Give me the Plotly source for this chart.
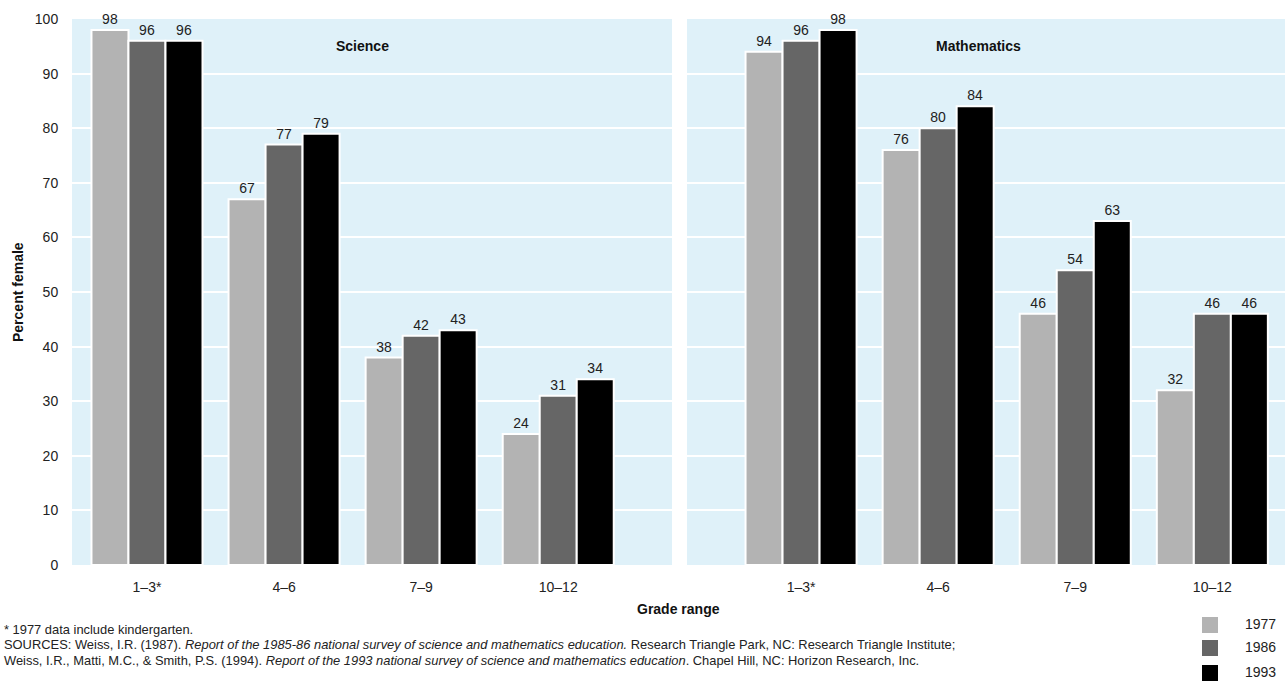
import plotly.graph_objects as go

grades = ["1–3*", "4–6", "7–9", "10–12"]
years = ["1977", "1986", "1993"]
colors = ["#b3b3b3", "#666666", "#000000"]
science = {
    "1977": [98, 67, 38, 24],
    "1986": [96, 77, 42, 31],
    "1993": [96, 79, 43, 34],
}
mathematics = {
    "1977": [94, 76, 46, 32],
    "1986": [96, 80, 54, 46],
    "1993": [98, 84, 63, 46],
}
yticks = [0, 10, 20, 30, 40, 50, 60, 70, 80, 90, 100]

FONT = "Liberation Sans, Arial, Helvetica, sans-serif"
BG = "#dff1f9"
W, H = 1285, 683

fig = go.Figure()
xpos = list(range(len(grades)))
for panel, (data, xa, ya) in enumerate([(science, "x", "y"), (mathematics, "x2", "y2")]):
    for yr, col in zip(years, colors):
        fig.add_trace(go.Bar(
            x=xpos, y=data[yr], name=yr, xaxis=xa, yaxis=ya,
            marker=dict(color=col, line=dict(color="white", width=2)),
            text=data[yr], texttemplate="%{text}", textposition="outside",
            textfont=dict(size=14, color="#222222", family=FONT),
            cliponaxis=False, showlegend=False, offsetgroup=yr,
        ))

axis_common = dict(
    tickmode="array", tickvals=xpos, ticktext=grades,
    ticks="outside", ticklen=9, tickcolor="rgba(0,0,0,0)",
    showgrid=False, zeroline=False, showline=False, automargin=False,
    tickfont=dict(size=14, color="#222222", family=FONT),
)
yaxis_common = dict(
    range=[0, 100], tickvals=yticks, showgrid=True, gridcolor="white", gridwidth=1.5,
    zeroline=False, showline=False, automargin=False,
)

fig.update_layout(
    width=W, height=H,
    margin=dict(l=0, r=0, t=0, b=0, pad=0),
    paper_bgcolor="white", plot_bgcolor=BG,
    barmode="group", bargap=0.19, bargroupgap=0.0,
    font=dict(family=FONT, color="#222222"),
    xaxis=dict(domain=[72/W, 672/W], range=[-0.547, 3.83], anchor="y", **axis_common),
    xaxis2=dict(domain=[687/W, 1.0], range=[-0.832, 3.53], anchor="y2", **axis_common),
    yaxis=dict(domain=[1-565/H, 1-19/H], anchor="x",
               ticks="outside", ticklen=10, tickcolor="rgba(0,0,0,0)",
               tickfont=dict(size=14, color="#222222", family=FONT), **yaxis_common),
    yaxis2=dict(domain=[1-565/H, 1-19/H], anchor="x2", showticklabels=False, **yaxis_common),
)

def label(text, x, y, size=14, angle=0, xanchor="center", color="#111111"):
    fig.add_annotation(text=text, x=x/W, y=1-y/H, xref="paper", yref="paper",
                       xanchor=xanchor, yanchor="middle", showarrow=False, textangle=angle,
                       font=dict(size=size, color=color, family=FONT))

# Panel titles
label("<b>Science</b>", 362, 46)
label("<b>Mathematics</b>", 978, 46)

# Axis titles
label("<b>Percent female</b>", 18, 292, angle=-90)
label("<b>Grade range</b>", 678, 609)

# Footnotes
notes = [
    "* 1977 data include kindergarten.",
    "SOURCES: Weiss, I.R. (1987). <i>Report of the 1985-86 national survey of science and mathematics education.</i> Research Triangle Park, NC: Research Triangle Institute;",
    "Weiss, I.R., Matti, M.C., & Smith, P.S. (1994). <i>Report of the 1993 national survey of science and mathematics education</i>. Chapel Hill, NC: Horizon Research, Inc.",
]
for i, t in enumerate(notes):
    label(t, 2, 629 + 15.5 * i, size=12.9, xanchor="left", color="#222222")

# Legend
leg_y = [625, 648, 673]
for yr, col, yc in zip(years, colors, leg_y):
    fig.add_shape(type="rect", xref="paper", yref="paper",
                  x0=1202/W, x1=1218/W, y0=1-(yc+8)/H, y1=1-(yc-8)/H,
                  fillcolor=col, line=dict(width=0))
    label(yr, 1243, yc - 1, xanchor="left", color="#222222")

fig.write_html("out.html", config={"displayModeBar": False},
               post_script="document.body.style.margin='0';document.body.style.overflow='hidden';")
